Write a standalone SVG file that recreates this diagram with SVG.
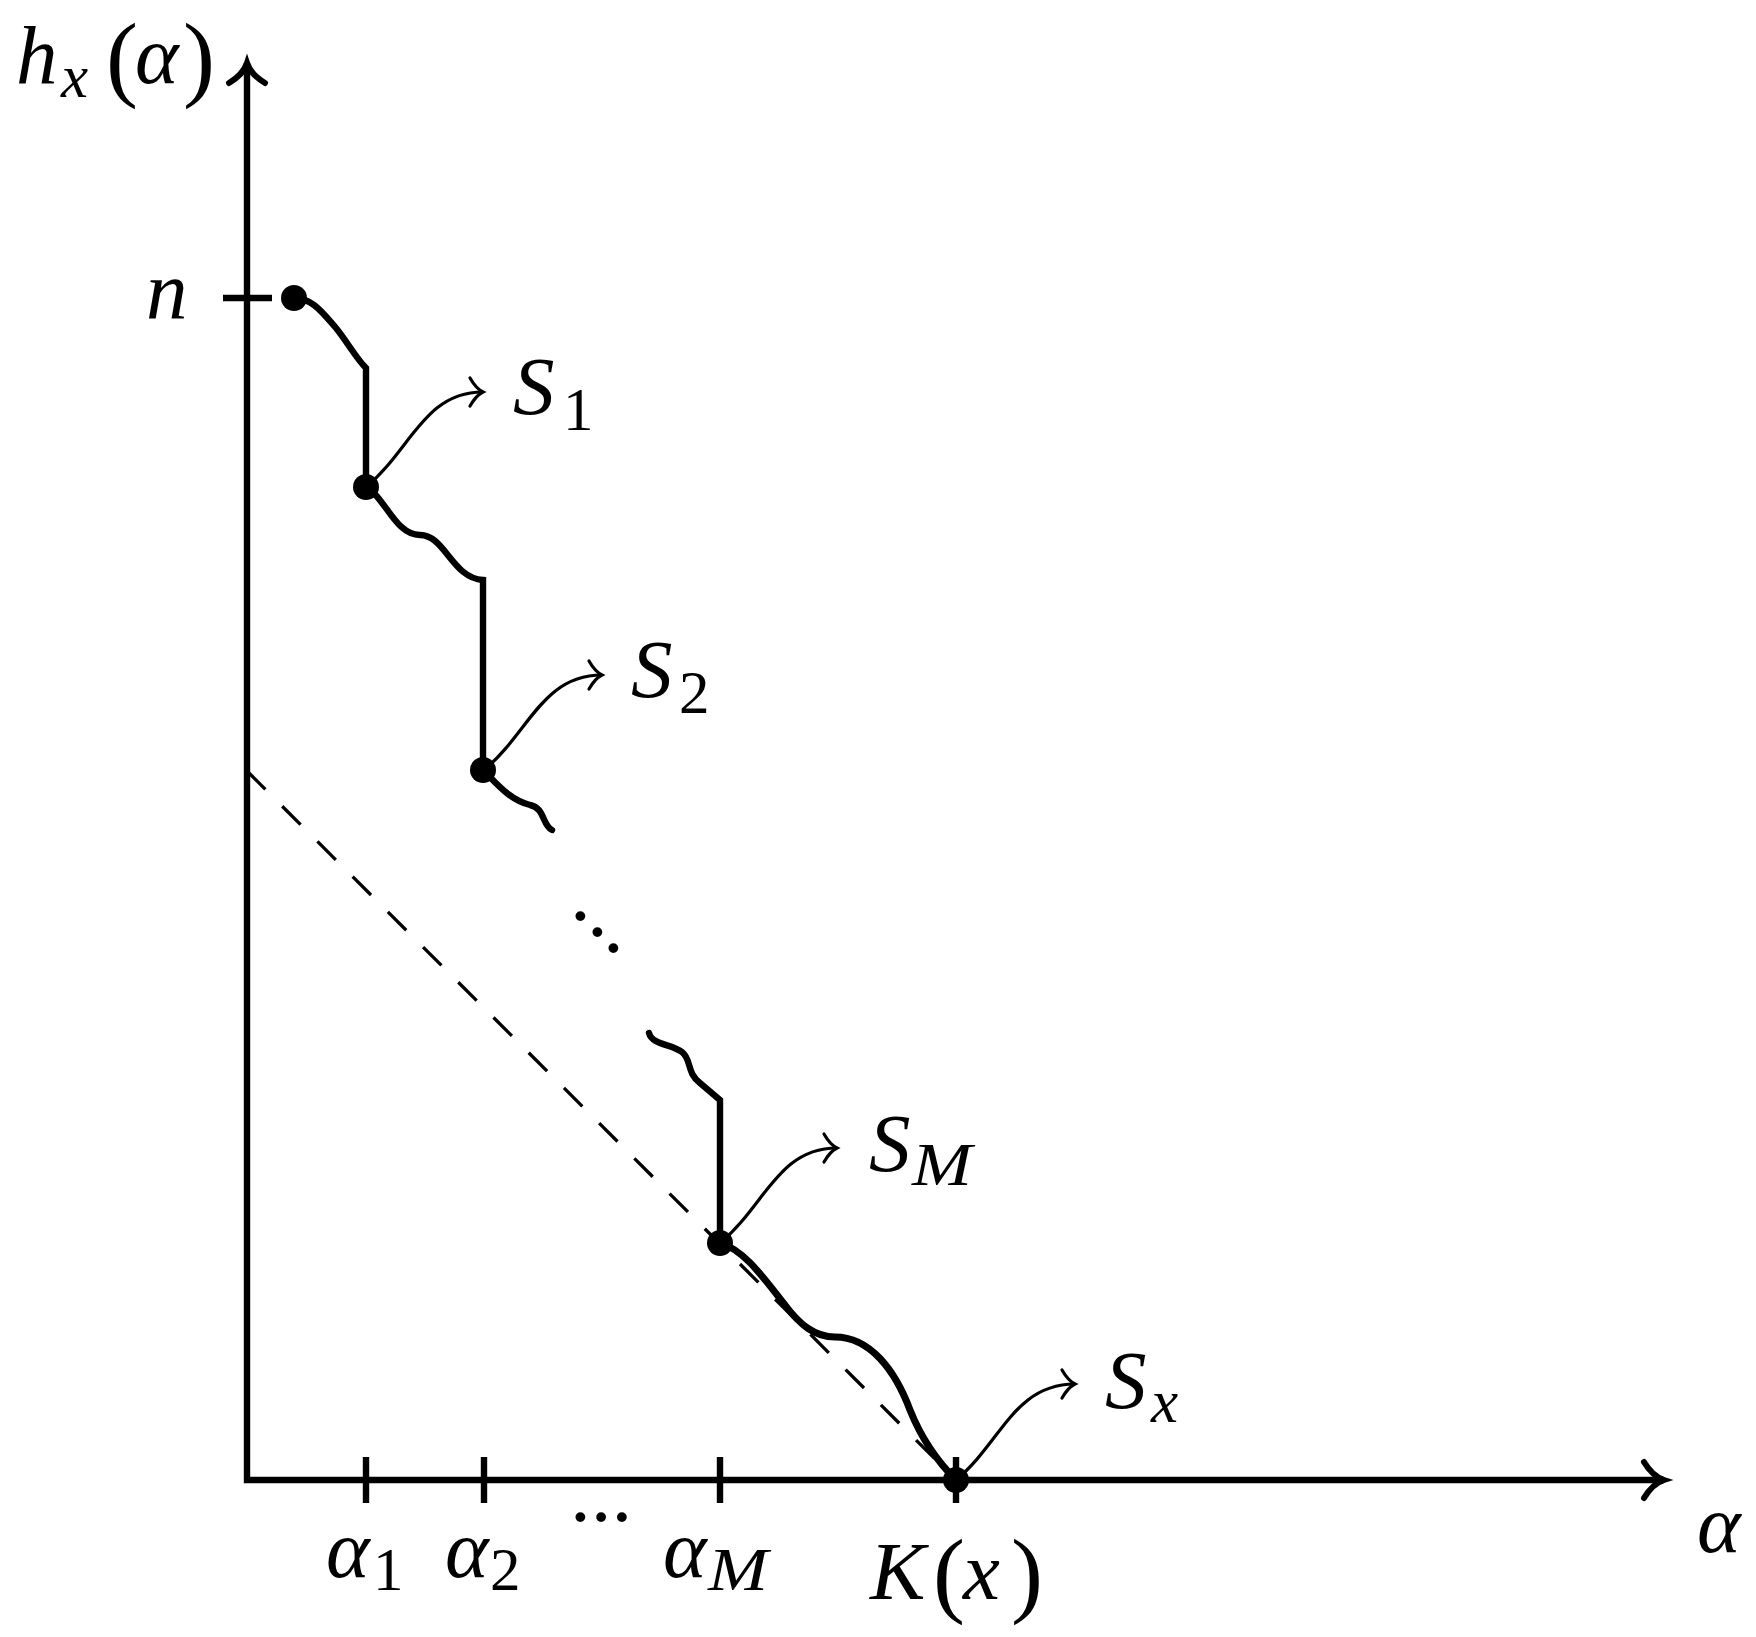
<svg xmlns="http://www.w3.org/2000/svg" width="1756" height="1637" viewBox="0 0 1756 1637">
<style>
.bg{fill:#fff}
.axis{fill:none;stroke:#000;stroke-width:6.4;stroke-linejoin:miter}
.tick{stroke:#000;stroke-width:6.4}
.path{fill:none;stroke:#000;stroke-width:6.4;stroke-linecap:round;stroke-linejoin:miter}
.arr{fill:none;stroke:#000;stroke-width:3.2}
.dash{fill:none;stroke:#000;stroke-width:3.3;stroke-dasharray:26 23.8}
.dot{fill:#000}
.t{font-family:'Liberation Serif','Times New Roman',serif;font-size:83px;fill:#000}
.i{font-style:italic}
.s{font-size:61px}
.p{font-size:96px}
</style>
<defs>
<marker id="ah" markerUnits="userSpaceOnUse" markerWidth="40" markerHeight="40" refX="0" refY="0" orient="auto" overflow="visible">
<path d="M-13,-14 C-9,-7 -4,-2 0,0 C-4,2 -9,7 -13,14" fill="none" stroke="#000" stroke-width="3.2" stroke-linecap="round"/>
</marker>
<marker id="axh" markerUnits="userSpaceOnUse" markerWidth="60" markerHeight="60" refX="0" refY="0" orient="auto-start-reverse" overflow="visible">
<path d="M-20,-18 C-14,-8 -6,-2 0,0 C-6,2 -14,8 -20,18" fill="none" stroke="#000" stroke-width="6" stroke-linecap="round"/>
</marker>
</defs>
<rect class="bg" x="0" y="0" width="1756" height="1637"/>

<g id="axes">
<path class="axis" d="M247,63 L247,1480 L1664,1480" marker-start="url(#axh)" marker-end="url(#axh)"/>
<line class="tick" x1="223" y1="298" x2="272" y2="298"/>
<line class="tick" x1="366" y1="1457" x2="366" y2="1503"/>
<line class="tick" x1="484" y1="1457" x2="484" y2="1503"/>
<line class="tick" x1="720" y1="1457" x2="720" y2="1503"/>
<line class="tick" x1="956" y1="1457" x2="956" y2="1503"/>
</g>

<g id="connectors">
<path class="dash" d="M247,771 L956,1480"/>
<path class="path" d="M294,298 C312,298 322,312 336,328 C348,343 356,358 366,368 L366,487"/>
<path class="path" d="M366,487 C385,497 395,535 420,535 C445,535 452,578 483,580 L483,770"/>
<path class="path" d="M483,770 C498,785 510,800 530,805 C545,808 542,825 552,830"/>
<path class="path" d="M649,1033 C652,1045 672,1044 682,1052 C692,1060 686,1072 700,1083 L720,1100 L720,1243"/>
<path class="path" d="M720,1243 C745,1250 765,1280 785,1305 C800,1325 815,1337 835,1337 C870,1337 895,1370 910,1410 C922,1440 938,1462 956,1480" style="stroke-width:7"/>
<path class="arr" d="M366,487 c45,-37 58,-95 117,-95" marker-end="url(#ah)"/>
<path class="arr" d="M484,770 c45,-37 58,-95 118,-95" marker-end="url(#ah)"/>
<path class="arr" d="M720,1243 c45,-37 58,-95 117,-95" marker-end="url(#ah)"/>
<path class="arr" d="M956,1480 c45,-37 58,-96 119,-96" marker-end="url(#ah)"/>
</g>

<g id="node-p0"><circle class="dot" cx="294" cy="298" r="13"/></g>
<g id="node-p1"><circle class="dot" cx="366" cy="487" r="13"/></g>
<g id="node-p2"><circle class="dot" cx="483" cy="770" r="13"/></g>
<g id="node-pM"><circle class="dot" cx="720" cy="1243" r="13"/></g>
<g id="node-pK"><circle class="dot" cx="956" cy="1480" r="13"/></g>

<g id="labels">
<g id="label-y"><text class="t" x="16" y="83"><tspan class="i">h</tspan><tspan class="i s" x="61" y="97">x</tspan><tspan class="p" x="106" y="89">(</tspan><tspan class="i" x="135" y="83">α</tspan><tspan class="p" x="183" y="89">)</tspan></text></g>
<g id="label-n"><text class="t i" x="146" y="318">n</text></g>
<g id="label-S1"><text class="t" x="513" y="414"><tspan class="i">S</tspan><tspan class="s" x="563" y="430">1</tspan></text></g>
<g id="label-S2"><text class="t" x="631" y="697"><tspan class="i">S</tspan><tspan class="s" x="679" y="713">2</tspan></text></g>
<g id="label-SM"><text class="t" x="869" y="1171"><tspan class="i">S</tspan><tspan class="i s" x="912" y="1185" textLength="60" lengthAdjust="spacingAndGlyphs">M</tspan></text></g>
<g id="label-Sx"><text class="t" x="1105" y="1408"><tspan class="i">S</tspan><tspan class="i s" x="1151" y="1422">x</tspan></text></g>
<g id="label-ddots"><text class="t" x="570 587 603" y="920 936 952">...</text></g>
<g id="label-a1"><text class="t" x="326" y="1577"><tspan class="i">α</tspan><tspan class="s" x="373" y="1590">1</tspan></text></g>
<g id="label-a2"><text class="t" x="445" y="1577"><tspan class="i">α</tspan><tspan class="s" x="490" y="1590">2</tspan></text></g>
<g id="label-dots"><text class="t" x="570" y="1521">...</text></g>
<g id="label-aM"><text class="t" x="663" y="1577"><tspan class="i">α</tspan><tspan class="i s" x="708" y="1590" textLength="60" lengthAdjust="spacingAndGlyphs">M</tspan></text></g>
<g id="label-K"><text class="t" x="870" y="1599"><tspan class="i">K</tspan><tspan class="p" x="933" y="1605">(</tspan><tspan class="i" x="963" y="1599">x</tspan><tspan class="p" x="1011" y="1605">)</tspan></text></g>
<g id="label-alpha"><text class="t i" x="1697" y="1552">α</text></g>
</g>
</svg>
